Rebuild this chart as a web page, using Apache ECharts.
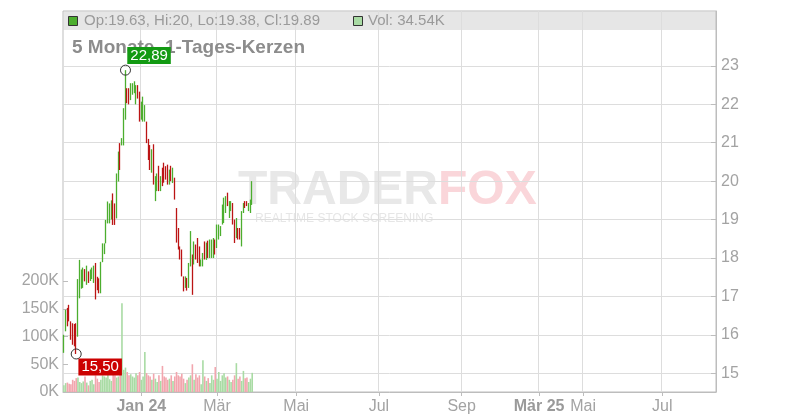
<!DOCTYPE html>
<html><head><meta charset="utf-8">
<script src="https://cdn.jsdelivr.net/npm/echarts@6/dist/echarts.min.js"></script>
<style>html,body{margin:0;padding:0;background:#fff}#c{width:800px;height:420px}</style>
</head><body><div id="c"></div>
<script>
// ---- data ----
const opens = [15.60,16.15,16.65,16.72,16.30,16.25,16.20,16.24,16.00,17.02,
 17.25,17.28,17.68,17.35,17.62,17.45,17.50,17.40,17.82,17.48,
 17.44,17.14,17.92,18.14,18.42,18.95,18.96,19.05,19.62,19.38,
 19.08,20.04,20.94,20.95,20.98,21.66,22.38,22.38,22.15,22.28,
 22.32,22.05,22.46,22.28,21.65,21.60,21.60,21.50,21.05,20.90,
 20.27,20.90,19.54,19.78,20.35,19.78,20.31,20.44,20.36,20.39,
 19.95,20.36,19.99,20.05,19.25,18.74,18.27,18.18,17.49,17.25,
 17.45,17.26,17.82,18.04,17.87,18.31,18.48,18.26,17.80,17.81,
 18.39,17.98,18.41,18.04,18.03,18.04,18.44,18.30,18.51,18.60,
 18.91,18.95,19.21,19.66,19.08,19.25,19.39,18.96,18.56,18.75,
 18.74,18.34,19.20,19.45,19.46,19.25,19.20,19.63];
const closes = [15.95,16.60,16.28,16.40,15.92,15.80,15.76,15.58,17.38,17.88,
 17.65,17.70,17.42,17.75,17.40,17.66,17.72,17.76,16.98,17.20,
 17.12,17.85,18.34,18.35,18.95,19.42,19.38,19.46,18.92,18.90,
 20.14,20.72,20.34,21.09,21.85,22.60,22.06,22.04,22.50,22.52,
 22.56,22.45,22.18,21.60,22.02,22.15,21.94,21.04,20.60,20.34,
 20.78,19.96,20.08,20.15,19.79,20.09,19.91,20.00,20.08,19.95,
 20.26,20.04,20.31,19.56,18.45,18.26,18.00,17.56,17.17,17.49,
 17.19,17.83,18.65,17.10,18.39,18.00,17.91,17.82,17.94,18.10,
 18.00,18.36,18.04,18.44,18.45,18.48,18.13,18.83,18.84,18.80,
 19.35,19.52,19.57,19.39,19.44,19.45,18.91,18.43,19.00,18.52,
 18.51,19.18,19.40,19.33,19.37,19.40,19.48,19.89];
const lows = [15.53,16.09,16.22,16.35,15.87,15.74,15.70,15.50,15.95,16.95,
 17.20,17.22,17.39,17.30,17.35,17.40,17.45,17.35,16.92,17.16,
 17.08,17.08,17.89,18.10,18.38,18.90,18.90,19.00,18.86,18.86,
 19.03,19.99,20.29,20.93,20.93,21.60,22.03,22.00,22.11,22.25,
 22.29,22.00,22.15,21.55,21.60,21.55,21.55,20.99,20.55,20.29,
 20.22,19.91,19.48,19.74,19.74,19.74,19.87,19.96,20.04,19.91,
 19.91,20.00,19.95,19.52,18.40,18.22,17.96,17.52,17.13,17.22,
 17.15,17.22,17.78,17.04,17.83,17.96,17.87,17.78,17.78,17.78,
 17.96,17.95,18.00,18.00,18.00,18.00,18.09,18.26,18.48,18.57,
 18.87,18.91,19.17,19.35,19.04,19.22,18.87,18.39,18.52,18.48,
 18.48,18.30,19.17,19.30,19.35,19.22,19.17,19.38];
const highs = [16.00,16.65,16.70,16.78,16.35,16.30,16.28,16.30,17.45,17.95,
 17.70,17.75,17.71,17.80,17.65,17.70,17.75,17.80,17.87,17.51,
 17.47,17.90,18.38,18.38,18.99,19.47,19.42,19.50,19.68,19.42,
 20.20,20.77,20.99,21.12,21.90,22.89,22.42,22.42,22.55,22.55,
 22.60,22.50,22.50,22.33,22.07,22.20,21.98,21.55,21.10,20.94,
 20.83,20.96,20.13,20.20,20.40,20.13,20.35,20.48,20.39,20.43,
 20.30,20.40,20.35,20.09,19.30,18.78,18.30,18.22,17.52,17.52,
 17.48,17.87,18.70,18.09,18.43,18.35,18.52,18.30,17.96,18.13,
 18.43,18.40,18.45,18.48,18.48,18.52,18.48,18.87,18.87,18.83,
 19.39,19.57,19.61,19.70,19.48,19.48,19.43,19.00,19.04,18.78,
 18.78,19.22,19.43,19.48,19.48,19.43,19.52,20.00];
// volume in thousands
const volumes = [12,16,17,15,14,22,20,25,26,18,
 16,19,28,17,12,20,22,14,30,24,
 18,22,30,28,26,34,23,20,32,30,
 26,28,38,160,40,44,36,30,32,28,
 26,34,30,36,22,28,72,34,30,28,
 22,33,24,18,30,20,47,28,26,22,
 24,30,20,28,36,30,28,33,24,16,
 22,26,30,50,22,32,26,30,14,57,
 28,20,25,16,30,22,45,24,36,20,
 30,34,26,28,22,18,22,30,52,24,
 28,20,38,25,26,18,24,34.54];
const priceTicks = [15,16,17,18,19,20,21,22,23];
const volumeTicks = [0,50,100,150,200];
// trading-day slots on the time axis and the month labels placed on them
const slotCount = 371;
const xTickLabels = [[44,'Jan 24'],[87,'Mär'],[132,'Mai'],[179,'Jul'],[226,'Sep'],[270,'Mär 25'],[295,'Mai'],[340,'Jul']];
const yearLabels = ['Jan 24','Mär 25'];
const titleText = '5 Monate, 1-Tages-Kerzen';

// ---- chart ----
const FONT = '"Liberation Sans", Arial, Helvetica, sans-serif';
const UP = '#4cae2e', DOWN = '#bb1414', UPV = '#a9dba4', DOWNV = '#f2a6ae';
const slots = Array.from({length: slotCount}, (_, i) => String(i));
const tickMap = {};
xTickLabels.forEach(([i, t]) => { tickMap[String(i)] = t; });
const showTick = (idx) => tickMap[String(idx)] !== undefined;
const candleData = opens.map((o, i) => [o, closes[i], lows[i], highs[i]]);
const volData = volumes.map((v, i) => ({value: v, itemStyle: {color: closes[i] >= opens[i] ? UPV : DOWNV}}));
const hiVal = Math.max(...highs), hiIdx = highs.indexOf(hiVal);
const loVal = Math.min(...lows), loIdx = lows.indexOf(loVal);
const fmt = v => v.toFixed(2).replace('.', ',');
const last = opens.length - 1;
const legendText = `Op:${opens[last]}, Hi:${highs[last]}, Lo:${lows[last]}, Cl:${closes[last]}`;
const volText = `Vol: ${volumes[last]}K`;
const AX = '#bdbdbd', LBL = '#a3a3a3', GRIDC = '#dddddd';

const chart = echarts.init(document.getElementById('c'));
chart.setOption({
  animation: false,
  backgroundColor: '#fff',
  grid: [
    {left: 63, right: 84, top: 11, bottom: 28, show: true, borderColor: AX, borderWidth: 1, backgroundColor: 'transparent'},
    {left: 63, right: 84, top: 281, bottom: 28, show: false}
  ],
  xAxis: [
    {type: 'category', gridIndex: 0, data: slots, boundaryGap: true,
     axisLine: {show: true, lineStyle: {color: AX}},
     axisTick: {show: true, alignWithLabel: true, interval: (i) => showTick(i), length: 4, lineStyle: {color: AX}},
     axisLabel: {interval: (i) => showTick(i),
       formatter: (v) => yearLabels.includes(tickMap[v]) ? '{b|' + tickMap[v] + '}' : (tickMap[v] || ''),
       color: LBL, fontSize: 16, fontFamily: FONT, margin: 7,
       rich: {b: {fontWeight: 'bold', color: '#9a9a9a', fontSize: 16, fontFamily: FONT}}},
     splitLine: {show: true, interval: (i) => showTick(i), lineStyle: {color: GRIDC}}},
    {type: 'category', gridIndex: 1, data: slots, boundaryGap: true, show: false}
  ],
  yAxis: [
    {type: 'value', gridIndex: 0, position: 'right', min: 14.51, max: 24.43,
     axisLine: {show: true, lineStyle: {color: AX}},
     axisTick: {show: true, inside: true, length: 5, customValues: priceTicks, lineStyle: {color: AX}},
     axisLabel: {customValues: priceTicks, color: LBL, fontSize: 16, fontFamily: FONT, margin: 5},
     splitLine: {show: true, lineStyle: {color: GRIDC}}},
    {type: 'value', gridIndex: 1, position: 'left', min: volumeTicks[0], max: volumeTicks[volumeTicks.length - 1], interval: volumeTicks[1] - volumeTicks[0],
     axisLine: {show: false},
     axisTick: {show: true, inside: true, length: 5, lineStyle: {color: AX}},
     axisLabel: {formatter: '{value}K', color: LBL, fontSize: 16, fontFamily: FONT, margin: 4},
     splitLine: {show: false}}
  ],
  graphic: [
    {type: 'rect', z: -2, silent: true, shape: {x: 63.5, y: 11.5, width: 652.5, height: 18.5}, style: {fill: '#e6e6e6'}},
    {type: 'text', z: -1, silent: true, x: 238, y: 191, style: {text: 'TRADER', font: `900 48px ${FONT}`, fill: '#e8e8e8', verticalAlign: 'middle'}},
    {type: 'text', z: -1, silent: true, x: 438, y: 191, style: {text: 'FOX', font: `900 48px ${FONT}`, fill: '#fad6da', verticalAlign: 'middle'}},
    {type: 'text', z: -1, silent: true, x: 255, y: 219, style: {text: 'REALTIME STOCK SCREENING', font: `12px ${FONT}`, fill: '#e6e6e6', verticalAlign: 'middle'}},
    {type: 'rect', z: 5, silent: true, shape: {x: 68.5, y: 16.5, width: 9, height: 9}, style: {fill: UP, stroke: '#333', lineWidth: 1}},
    {type: 'text', z: 5, silent: true, x: 84, y: 21, style: {text: legendText, font: `15px ${FONT}`, fill: '#9a9a9a', verticalAlign: 'middle'}},
    {type: 'rect', z: 5, silent: true, shape: {x: 353.5, y: 16.5, width: 9, height: 9}, style: {fill: UPV, stroke: '#333', lineWidth: 1}},
    {type: 'text', z: 5, silent: true, x: 368, y: 21, style: {text: volText, font: `15px ${FONT}`, fill: '#9a9a9a', verticalAlign: 'middle'}},
    {type: 'text', z: 1, silent: true, x: 72, y: 48, style: {text: titleText, font: `bold 19px ${FONT}`, fill: '#8c8c8c', verticalAlign: 'middle'}}
  ],
  series: [
    {type: 'candlestick', xAxisIndex: 0, yAxisIndex: 0, data: candleData, barWidth: 1,
     itemStyle: {color: UP, color0: DOWN, borderColor: UP, borderColor0: DOWN, borderWidth: 1.3},
     markPoint: {symbol: 'circle', symbolSize: 10, silent: true, animation: false,
       itemStyle: {color: 'rgba(0,0,0,0)', borderColor: '#333', borderWidth: 1},
       data: [
         {coord: [slots[hiIdx], hiVal], label: {show: true, formatter: fmt(hiVal), position: [7.3, -0.7], align: 'left', verticalAlign: 'bottom',
           backgroundColor: '#139a13', color: '#fff', fontSize: 15, lineHeight: 17, padding: [0, 3], fontFamily: FONT}},
         {coord: [slots[loIdx], loVal], label: {show: true, formatter: fmt(loVal), position: [7.7, 10], align: 'left', verticalAlign: 'top',
           backgroundColor: '#cc0000', color: '#fff', fontSize: 15, lineHeight: 17, padding: [0, 3], fontFamily: FONT}}
       ]}},
    {type: 'bar', xAxisIndex: 1, yAxisIndex: 1, data: volData, barWidth: 1.6}
  ]
});
</script></body></html>
